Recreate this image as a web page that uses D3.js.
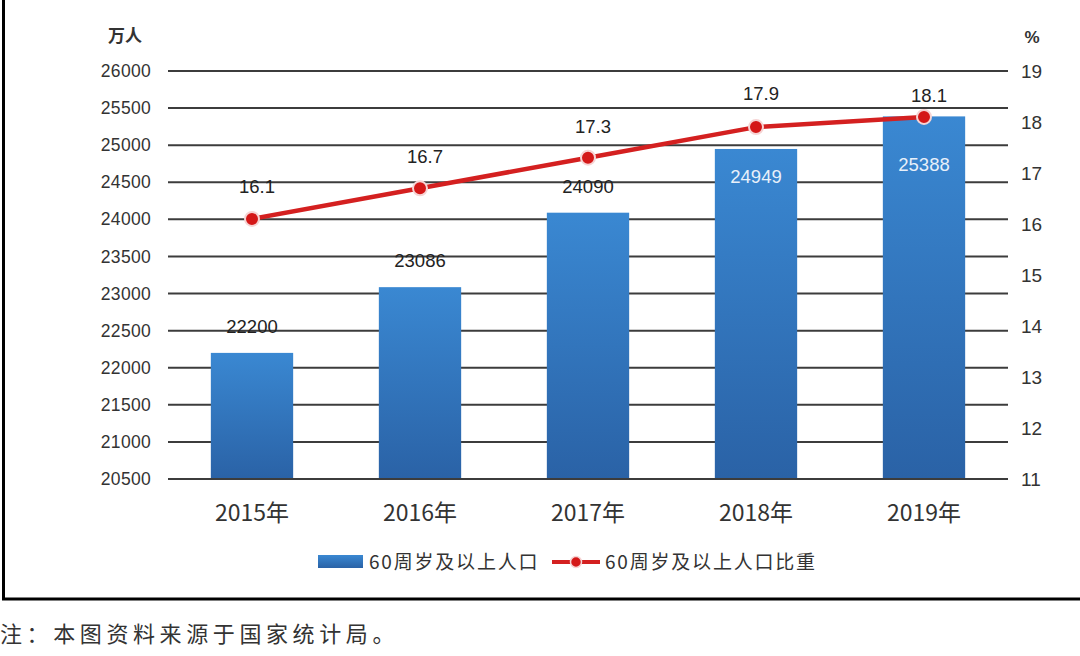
<!DOCTYPE html>
<html><head><meta charset="utf-8">
<script src="https://cdn.jsdelivr.net/npm/d3@7"></script>
<style>
html,body{margin:0;padding:0;background:#fff;}
svg{display:block;}
</style></head>
<body>
<svg id="chart" width="1080" height="656"></svg>
<script>
const categories = ["2015年","2016年","2017年","2018年","2019年"];
const population = [22200, 23086, 24090, 24949, 25388];
const share = [16.1, 16.7, 17.3, 17.9, 18.1];
const leftTicks = [20500,21000,21500,22000,22500,23000,23500,24000,24500,25000,25500,26000];
const rightTicks = [11,12,13,14,15,16,17,18,19];
const seriesNames = ["60周岁及以上人口","60周岁及以上人口比重"];
const leftUnit = "万人", rightUnit = "%";
const note = "注：本图资料来源于国家统计局。";

// label placement (style, not data)
const barLabelInside = [false,false,false,true,true];
const barLabelOffset = [-26,-26,-26,28,49];
const lineLabelOffset = [-26,-25,-25,-27,-15];

const svg = d3.select("#chart");
const m = {left:168, right:1008, top:71, bottom:479};
const font = "'Liberation Sans','DejaVu Sans','Noto Sans CJK SC',sans-serif";
const cjk = "'Noto Sans CJK SC','Liberation Sans',sans-serif";

const defs = svg.append("defs");
const g1 = defs.append("linearGradient").attr("id","barGrad").attr("x1",0).attr("y1",0).attr("x2",0).attr("y2",1);
g1.append("stop").attr("offset","0%").attr("stop-color","#3a88d2");
g1.append("stop").attr("offset","100%").attr("stop-color","#2a62a6");

// frame
svg.append("rect").attr("x",3.5).attr("y",-10).attr("width",1100).attr("height",609)
  .attr("fill","none").attr("stroke","#000").attr("stroke-width",3);

const x = d3.scaleBand().domain(categories).range([m.left,m.right]).paddingInner(0.51).paddingOuter(0.255);
const y = d3.scaleLinear().domain([20500,26000]).range([m.bottom,m.top]);
const y2 = d3.scaleLinear().domain([11,19]).range([m.bottom,m.top]);

// gridlines
svg.append("g").selectAll("line").data(leftTicks).join("line")
  .attr("x1",m.left).attr("x2",m.right)
  .attr("y1",d=>y(d)).attr("y2",d=>y(d))
  .attr("stroke","#3c3c3c").attr("stroke-width",2);

// left axis
const la = svg.append("g").attr("transform",`translate(${m.left},0)`)
  .call(d3.axisLeft(y).tickValues(leftTicks).tickSize(0).tickPadding(17).tickFormat(d3.format("d")));
la.select(".domain").remove();
la.selectAll("text").attr("font-family",font).attr("font-size",17.5).attr("letter-spacing",0.3).attr("fill","#333");

// right axis
const ra = svg.append("g").attr("transform",`translate(${m.right},0)`)
  .call(d3.axisRight(y2).tickValues(rightTicks).tickSize(0).tickPadding(13).tickFormat(d3.format("d")));
ra.select(".domain").remove();
ra.selectAll("text").attr("font-family",font).attr("font-size",19).attr("fill","#333");

// units
svg.append("text").attr("x",125).attr("y",42).attr("text-anchor","middle")
  .attr("font-family",cjk).attr("font-size",17).attr("font-weight","bold").attr("fill","#333").text(leftUnit);
svg.append("text").attr("x",1032).attr("y",43).attr("text-anchor","middle")
  .attr("font-family",font).attr("font-size",17).attr("font-weight","bold").attr("fill","#333").text(rightUnit);

// bars
svg.append("g").selectAll("rect").data(population).join("rect")
  .attr("x",(d,i)=>x(categories[i]))
  .attr("width",x.bandwidth())
  .attr("y",d=>y(d))
  .attr("height",d=>y(20500)-y(d))
  .attr("fill","url(#barGrad)");

svg.append("line").attr("x1",m.left).attr("x2",m.right).attr("y1",y(20500)).attr("y2",y(20500))
  .attr("stroke","#3c3c3c").attr("stroke-width",2);

// bar labels
svg.append("g").selectAll("text").data(population).join("text")
  .attr("x",(d,i)=>x(categories[i])+x.bandwidth()/2)
  .attr("y",(d,i)=>y(d)+barLabelOffset[i]+6)
  .attr("text-anchor","middle")
  .attr("font-family",font).attr("font-size",18.5)
  .attr("fill",(d,i)=>barLabelInside[i]?"#e8f0fa":"#222")
  .text(d=>d);

// x labels
svg.append("g").selectAll("text").data(categories).join("text")
  .attr("x",d=>x(d)+x.bandwidth()/2).attr("y",521)
  .attr("text-anchor","middle").attr("font-family",cjk).attr("font-size",23).attr("fill","#333")
  .text(d=>d);

// line
const cx = (i)=>x(categories[i])+x.bandwidth()/2;
const line = d3.line().x((d,i)=>cx(i)).y(d=>y2(d));
svg.append("path").datum(share).attr("d",line).attr("fill","none")
  .attr("stroke","#d42020").attr("stroke-width",4.5).attr("stroke-linecap","round").attr("stroke-linejoin","round");
svg.append("g").selectAll("circle").data(share).join("circle")
  .attr("cx",(d,i)=>cx(i)).attr("cy",d=>y2(d)).attr("r",7)
  .attr("fill","#d41818").attr("stroke","#f6d4d4").attr("stroke-width",2);

svg.append("g").selectAll("text").data(share).join("text")
  .attr("x",(d,i)=>cx(i)+5).attr("y",(d,i)=>y2(d)+lineLabelOffset[i])
  .attr("text-anchor","middle").attr("font-family",font).attr("font-size",18.5).attr("fill","#222")
  .text(d=>d3.format(".1f")(d));

// legend
const lg = svg.append("g");
lg.append("rect").attr("x",318).attr("y",555).attr("width",45).attr("height",13).attr("fill","url(#barGrad)");
lg.append("text").attr("x",369).attr("y",569).attr("font-family",cjk).attr("font-size",19).attr("letter-spacing",1.8).attr("fill","#333").text(seriesNames[0]);
lg.append("line").attr("x1",552).attr("x2",600).attr("y1",562).attr("y2",562).attr("stroke","#d42020").attr("stroke-width",4);
lg.append("circle").attr("cx",576).attr("cy",562).attr("r",5.5).attr("fill","#d41818").attr("stroke","#f6d4d4").attr("stroke-width",1.5);
lg.append("text").attr("x",605).attr("y",569).attr("font-family",cjk).attr("font-size",19).attr("letter-spacing",1.8).attr("fill","#333").text(seriesNames[1]);

// footnote
svg.append("text").attr("x",0).attr("y",642).attr("font-family",cjk).attr("font-size",22)
  .attr("fill","#333").attr("letter-spacing",4.6).text(note);
</script>
</body></html>
